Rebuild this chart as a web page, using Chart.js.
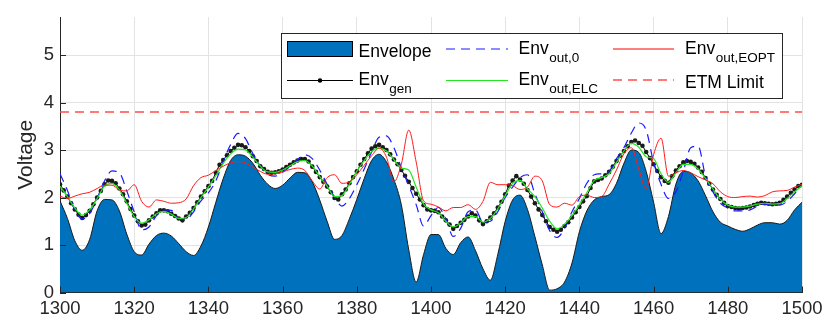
<!DOCTYPE html>
<html>
<head>
<meta charset="utf-8">
<script src="https://cdn.jsdelivr.net/npm/chart.js@4.4.1/dist/chart.umd.min.js"></script>
<style>
  html, body { margin: 0; padding: 0; background: #ffffff; }
  #wrap { width: 824px; height: 322px; }
</style>
</head>
<body>
<div id="wrap"><canvas id="c" width="824" height="322"></canvas></div>
<script>
// Sample positions (time index) for the series below
const xCoarse = Array.from({ length: 101 }, (_, i) => 1300 + 2 * i);
const xFine = Array.from({ length: 201 }, (_, i) => 1300 + i);
const xTicks = [1300, 1320, 1340, 1360, 1380, 1400, 1420, 1440, 1460, 1480, 1500];
const yTicks = [0, 1, 2, 3, 4, 5];

// Envelope, sampled every 2 units
const envelope = [
  1.93, 1.56, 1.09, 0.89, 1.12, 1.72, 1.96, 1.95, 1.72, 1.23,
  0.86, 0.79, 1.02, 1.20, 1.25, 1.19, 1.03, 0.86, 0.78, 0.98,
  1.38, 1.90, 2.40, 2.78, 2.90, 2.87, 2.72, 2.47, 2.28, 2.19,
  2.26, 2.41, 2.53, 2.52, 2.33, 1.95, 1.50, 1.12, 1.20, 1.55,
  1.96, 2.40, 2.78, 2.91, 2.75, 2.38, 1.85, 0.90, 0.22, 0.80,
  1.22, 1.22, 0.93, 0.80, 1.05, 1.17, 0.88, 0.50, 0.26, 0.80,
  1.50, 1.95, 2.05, 1.75, 1.18, 0.58, 0.05, 0.08, 0.22, 0.62,
  1.28, 1.72, 1.95, 2.02, 2.06, 2.30, 2.72, 3.00, 2.95, 2.55,
  1.90, 1.24, 1.60, 2.28, 2.55, 2.52, 2.35, 2.04, 1.70, 1.48,
  1.40, 1.33, 1.29, 1.34, 1.42, 1.47, 1.47, 1.44, 1.52, 1.74,
  1.90
];

// Env_out,0, sampled every 2 units
const envOut0 = [
  2.50, 2.15, 1.74, 1.55, 1.66, 1.98, 2.35, 2.56, 2.52, 2.14,
  1.70, 1.32, 1.38, 1.62, 1.74, 1.73, 1.57, 1.54, 1.70, 1.93,
  2.10, 2.35, 2.76, 3.12, 3.35, 3.24, 2.92, 2.66, 2.49, 2.45,
  2.53, 2.66, 2.80, 2.90, 2.82, 2.58, 2.28, 2.01, 1.82, 1.98,
  2.27, 2.60, 2.96, 3.27, 3.30, 3.05, 2.63, 2.25, 1.85, 1.40,
  1.62, 1.79, 1.55, 1.18, 1.35, 1.70, 1.74, 1.48, 1.50, 1.70,
  2.00, 2.22, 2.42, 2.48, 2.08, 1.70, 1.30, 1.16, 1.35, 1.70,
  1.98, 2.30, 2.48, 2.50, 2.55, 2.82, 3.05, 3.36, 3.57, 3.42,
  2.74, 2.28, 1.98, 2.12, 2.55, 3.05, 3.08, 2.45, 2.12, 1.88,
  1.78, 1.72, 1.72, 1.74, 1.82, 1.86, 1.84, 1.84, 1.92, 2.08,
  2.25
];

// Env_out,EOPT, sampled every 2 units
const envOutEopt = [
  2.03, 1.98, 2.03, 2.08, 2.11, 2.19, 2.26, 2.26, 2.16, 2.14,
  2.27, 1.92, 1.80, 1.95, 1.92, 1.88, 1.89, 1.97, 2.25, 2.42,
  2.47, 2.57, 2.66, 2.73, 2.76, 2.73, 2.64, 2.55, 2.49, 2.50,
  2.54, 2.59, 2.62, 2.57, 2.35, 2.18, 2.42, 2.48, 2.30, 2.33,
  2.48, 2.68, 2.88, 3.04, 2.85, 2.33, 2.70, 3.42, 2.75, 1.93,
  1.86, 1.80, 1.72, 1.79, 1.79, 1.85, 1.75, 1.92, 2.32, 2.27,
  2.27, 2.25, 2.17, 2.22, 2.45, 2.35, 1.85, 1.80, 1.88, 1.84,
  2.02, 2.05, 2.00, 2.02, 2.28, 2.58, 2.92, 3.05, 2.60, 2.18,
  2.90, 3.25, 2.45, 2.52, 2.57, 2.52, 2.44, 2.37, 2.29, 2.12,
  2.02, 2.00, 2.02, 2.03, 2.01, 2.04, 2.12, 2.14, 2.15, 2.22,
  2.28
];

// Env_gen, one sample per unit
const envGen = [
  2.28, 2.15, 2.02, 1.88, 1.75, 1.64, 1.57, 1.63, 1.72, 1.86,
  2.00, 2.14, 2.28, 2.36, 2.35, 2.30, 2.19, 2.07, 1.92, 1.76,
  1.62, 1.50, 1.41, 1.43, 1.52, 1.60, 1.67, 1.73, 1.73, 1.71,
  1.66, 1.61, 1.56, 1.52, 1.60, 1.68, 1.78, 1.90, 2.02, 2.13,
  2.24, 2.35, 2.52, 2.69, 2.79, 2.89, 2.98, 3.05, 3.11, 3.10,
  3.06, 2.98, 2.87, 2.77, 2.66, 2.60, 2.54, 2.52, 2.53, 2.55,
  2.59, 2.64, 2.69, 2.74, 2.78, 2.81, 2.81, 2.76, 2.65, 2.54,
  2.43, 2.33, 2.23, 2.11, 1.99, 1.96, 2.07, 2.17, 2.30, 2.43,
  2.55, 2.69, 2.81, 2.93, 3.03, 3.08, 3.11, 3.06, 3.00, 2.91,
  2.80, 2.70, 2.58, 2.46, 2.33, 2.20, 2.08, 1.96, 1.84, 1.75,
  1.73, 1.72, 1.69, 1.60, 1.52, 1.43, 1.34, 1.40, 1.47, 1.53,
  1.60, 1.67, 1.62, 1.52, 1.44, 1.50, 1.58, 1.67, 1.79, 1.91,
  2.07, 2.25, 2.36, 2.45, 2.38, 2.29, 2.16, 2.02, 1.88, 1.75,
  1.63, 1.50, 1.38, 1.32, 1.28, 1.32, 1.40, 1.48, 1.58, 1.69,
  1.80, 1.92, 2.03, 2.20, 2.34, 2.37, 2.40, 2.47, 2.54, 2.65,
  2.77, 2.88, 2.98, 3.08, 3.17, 3.20, 3.15, 3.09, 2.96, 2.83,
  2.70, 2.56, 2.43, 2.35, 2.31, 2.45, 2.57, 2.66, 2.74, 2.77,
  2.75, 2.71, 2.63, 2.54, 2.41, 2.29, 2.17, 2.06, 1.97, 1.89,
  1.82, 1.80, 1.78, 1.77, 1.78, 1.79, 1.81, 1.84, 1.87, 1.89,
  1.88, 1.87, 1.86, 1.87, 1.89, 1.95, 2.02, 2.10, 2.17, 2.24,
  2.27
];

// Env_out,ELC, sampled every 2 units
const envOutElc = [
  2.24, 2.02, 1.78, 1.63, 1.74, 1.98, 2.24, 2.30, 2.16, 1.88,
  1.60, 1.46, 1.53, 1.66, 1.71, 1.65, 1.56, 1.58, 1.76, 2.00,
  2.22, 2.46, 2.72, 2.92, 3.02, 3.00, 2.85, 2.66, 2.54, 2.53,
  2.58, 2.67, 2.76, 2.78, 2.66, 2.44, 2.24, 2.02, 2.04, 2.28,
  2.55, 2.78, 2.97, 3.04, 2.98, 2.80, 2.62, 2.58, 2.22, 1.86,
  1.74, 1.68, 1.50, 1.38, 1.46, 1.60, 1.60, 1.48, 1.56, 1.76,
  2.04, 2.30, 2.36, 2.18, 2.02, 1.78, 1.50, 1.34, 1.44, 1.62,
  1.85, 2.10, 2.36, 2.42, 2.50, 2.74, 2.98, 3.14, 3.06, 2.86,
  2.82, 2.50, 2.32, 2.52, 2.70, 2.70, 2.60, 2.40, 2.18, 1.96,
  1.84, 1.80, 1.80, 1.82, 1.86, 1.88, 1.86, 1.87, 1.98, 2.12,
  2.25
];

const etmLimit = 3.8;

const FONT = '"Liberation Sans", Arial, Helvetica, sans-serif';
const AXIS_COLOR = '#262626';
const LIMIT_RED = '#ff4d4d';
const DASH = [9, 6];

const pts = (xs, ys) => xs.map((x, i) => ({ x, y: ys[i] }));

// Inward tick marks on the left and bottom axes
const innerTicks = {
  id: 'innerTicks',
  afterDatasetsDraw(chart) {
    const { ctx, chartArea: a, scales: { x, y } } = chart;
    ctx.save();
    ctx.strokeStyle = AXIS_COLOR;
    ctx.lineWidth = 1;
    ctx.beginPath();
    yTicks.forEach(v => {
      const py = Math.round(y.getPixelForValue(v)) + 0.5;
      ctx.moveTo(a.left, py); ctx.lineTo(a.left + 6, py);
    });
    xTicks.forEach(v => {
      const px = Math.round(x.getPixelForValue(v)) + 0.5;
      ctx.moveTo(px, a.bottom); ctx.lineTo(px, a.bottom - 6);
    });
    ctx.stroke();
    ctx.restore();
  }
};

// Two-row legend with subscripted labels
const subLegend = {
  id: 'subLegend',
  afterDraw(chart) {
    const ctx = chart.ctx;
    ctx.save();
    ctx.fillStyle = '#ffffff';
    ctx.fillRect(281.5, 33.5, 501, 65);
    ctx.strokeStyle = AXIS_COLOR;
    ctx.lineWidth = 1;
    ctx.strokeRect(281.5, 33.5, 501, 65);

    const main = '17.5px ' + FONT;
    const sub = '13.5px ' + FONT;
    const label = (x, yBase, base, subs) => {
      ctx.fillStyle = '#000000';
      ctx.textBaseline = 'alphabetic';
      ctx.textAlign = 'left';
      ctx.font = main;
      ctx.fillText(base, x, yBase);
      if (subs) {
        const w = ctx.measureText(base).width;
        ctx.font = sub;
        ctx.fillText(subs, x + w + 0.5, yBase + 8);
      }
    };
    const seg = (x0, x1, yy, color, dash, width) => {
      ctx.beginPath();
      ctx.setLineDash(dash || []);
      ctx.strokeStyle = color;
      ctx.lineWidth = width || 1;
      ctx.moveTo(x0, yy); ctx.lineTo(x1, yy);
      ctx.stroke();
      ctx.setLineDash([]);
    };

    // row 1
    ctx.fillStyle = '#0072BD';
    ctx.fillRect(287.5, 41.5, 65, 15);
    ctx.strokeStyle = '#000000';
    ctx.strokeRect(287.5, 41.5, 65, 15);
    label(358.5, 56.5, 'Envelope');
    seg(446, 508, 49, '#1a1aff', DASH, 1.2);
    label(518.5, 53.5, 'Env', 'out,0');
    seg(613, 674, 49, '#ff0000', null, 1);
    label(685, 53.5, 'Env', 'out,EOPT');

    // row 2
    seg(287, 353, 80.5, '#000000', null, 1);
    ctx.beginPath();
    ctx.fillStyle = '#000000';
    ctx.arc(320, 80.5, 2.3, 0, Math.PI * 2);
    ctx.fill();
    label(358.5, 85, 'Env', 'gen');
    seg(446, 508, 80.5, '#22e622', null, 1.2);
    label(518.5, 85, 'Env', 'out,ELC');
    seg(613, 674, 80, LIMIT_RED, DASH, 1.5);
    label(685, 87.5, 'ETM Limit');
    ctx.restore();
  }
};

new Chart(document.getElementById('c'), {
  type: 'line',
  data: {
    datasets: [
      {
        label: 'ETM Limit',
        data: [{ x: 1300, y: etmLimit }, { x: 1500, y: etmLimit }],
        borderColor: LIMIT_RED, borderWidth: 1.5, borderDash: DASH,
        pointRadius: 0, fill: false, order: 0
      },
      {
        label: 'Env_out,EOPT',
        data: pts(xCoarse, envOutEopt),
        borderColor: '#ff1a1a', borderWidth: 1, pointRadius: 0,
        cubicInterpolationMode: 'monotone', fill: false, order: 1
      },
      {
        label: 'Env_out,ELC',
        data: pts(xCoarse, envOutElc),
        borderColor: '#22e622', borderWidth: 1.2, pointRadius: 0,
        cubicInterpolationMode: 'monotone', fill: false, order: 2
      },
      {
        label: 'Env_out,0',
        data: pts(xCoarse, envOut0),
        borderColor: '#1a1aff', borderWidth: 1.2, borderDash: DASH, pointRadius: 0,
        cubicInterpolationMode: 'monotone', fill: false, order: 3
      },
      {
        label: 'Env_gen',
        data: pts(xFine, envGen),
        borderColor: '#000000', borderWidth: 1,
        pointRadius: 2.3, pointBackgroundColor: '#1a1a1a', pointBorderWidth: 0,
        fill: false, order: 4
      },
      {
        label: 'Envelope',
        data: pts(xCoarse, envelope),
        borderColor: '#1a1a1a', borderWidth: 1, pointRadius: 0,
        backgroundColor: '#0072BD',
        cubicInterpolationMode: 'monotone', fill: 'origin', order: 5
      }
    ]
  },
  options: {
    responsive: false,
    animation: false,
    events: [],
    layout: { padding: { left: 0, right: 22, top: 13, bottom: 0 } },
    plugins: { legend: { display: false }, tooltip: { enabled: false } },
    scales: {
      x: {
        type: 'linear', min: 1300, max: 1500,
        afterBuildTicks: s => { s.ticks = xTicks.map(v => ({ value: v })); },
        afterFit: s => { s.height = 29.5; s.paddingLeft = 0; s.paddingRight = 0; },
        grid: { color: '#e3e3e3', drawTicks: false },
        border: { color: AXIS_COLOR, width: 1 },
        ticks: {
          color: AXIS_COLOR, padding: 5, maxRotation: 0, autoSkip: false,
          callback: v => String(v),
          font: { family: FONT, size: 18.5 }
        }
      },
      y: {
        type: 'linear', min: 0, max: 5.8,
        afterBuildTicks: s => { s.ticks = yTicks.map(v => ({ value: v })); },
        afterFit: s => { s.width = 60; },
        grid: { color: '#e3e3e3', drawTicks: false },
        border: { color: AXIS_COLOR, width: 1 },
        ticks: {
          color: AXIS_COLOR, padding: 6,
          callback: v => String(v),
          font: { family: FONT, size: 18.5 }
        },
        title: {
          display: true, text: 'Voltage', color: AXIS_COLOR,
          font: { family: FONT, size: 21 }, padding: { top: 14, bottom: 0 }
        }
      }
    }
  },
  plugins: [innerTicks, subLegend]
});
</script>
</body>
</html>
